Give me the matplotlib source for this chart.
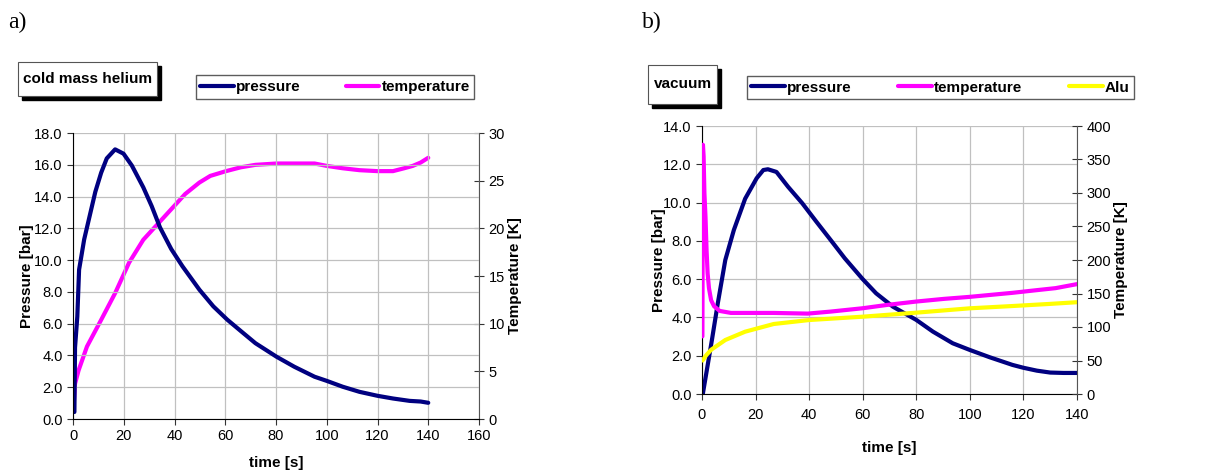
import matplotlib
matplotlib.use('Agg')
import matplotlib.pyplot as plt
from matplotlib.patches import Rectangle

plt.rcParams['font.family'] = ['Liberation Sans', 'DejaVu Sans']

# a) cold mass helium
t_a_p = [0.55, 0.8, 1.7, 2.4, 3.3, 4.4, 6.6, 8.8, 11.1, 13.3, 16.6, 19.9, 23.2, 27.7, 31, 34.3,
         38.7, 43.1, 49.8, 55.3, 60.8, 66.4, 71.9, 80.2, 87.2, 95.2, 100, 106.3, 112.9, 120,
         126.1, 132.7, 137, 140]
p_a = [0.44, 4.5, 6.45, 9.4, 10.25, 11.3, 12.8, 14.3, 15.5, 16.4, 16.97, 16.7, 15.95, 14.58, 13.4,
       12.05, 10.7, 9.62, 8.14, 7.09, 6.25, 5.5, 4.77, 3.92, 3.29, 2.66, 2.4, 2.03, 1.71, 1.46,
       1.29, 1.14, 1.1, 1.02]
t_a_T = [0.3, 0.8, 2.2, 5.5, 11.1, 16.6, 22.1, 27.7, 33.2, 38.7, 44.2, 49.8, 54.1, 60.3, 66.1,
         71.9, 80.2, 87.2, 95.2, 100, 106.3, 112.9, 120, 126.1, 130.5, 133.9, 137, 140]
T_a = [1.6, 3.7, 5.1, 7.6, 10.4, 13.2, 16.4, 18.8, 20.4, 22.0, 23.6, 24.8, 25.5, 26.0, 26.4,
       26.66, 26.8, 26.8, 26.8, 26.55, 26.3, 26.1, 26.0, 26.0, 26.3, 26.55, 26.9, 27.4]

# b) vacuum
t_b_p = [0.3, 1.6, 3.7, 5.9, 8.7, 11.9, 16.1, 20.4, 22.9, 24.6, 27.8, 32.1, 37.4, 42.7, 48,
         53.3, 60, 65, 71.3, 80, 86.2, 93.6, 100, 107.4, 115.9, 120, 125, 130, 135, 140]
p_b = [0.0, 1.08, 2.82, 4.74, 7.0, 8.57, 10.2, 11.27, 11.7, 11.74, 11.6, 10.83, 9.97, 9.0, 8.05,
       7.09, 6.0, 5.26, 4.56, 3.87, 3.26, 2.65, 2.3, 1.92, 1.52, 1.37, 1.22, 1.12, 1.1, 1.1]
t_b_T = [0.15, 0.35, 0.6, 0.9, 1.3, 1.7, 2.1, 2.6, 3.4, 4.5, 6.6, 10.8, 26.8, 39.5, 48, 60,
         69.2, 80, 90.4, 100, 115.9, 125, 132, 140]
T_b = [86, 372, 355, 300, 265, 215, 180, 158, 140, 131, 124, 121, 121, 120, 123, 128,
       133, 138, 142, 145, 151, 155, 158, 164]
t_b_alu = [0.2, 1.6, 3.4, 8.7, 16.1, 26.8, 40, 60, 80, 100, 115.9, 130, 140]
alu_b = [50, 58, 66, 80.6, 93, 104.5, 110.4, 115.4, 121.4, 127.9, 131.3, 134.5, 137]

NAVY = '#000080'
MAG = '#FF00FF'
YEL = '#FFFF00'
GRID = '#c0c0c0'

fig = plt.figure(figsize=(12.31, 4.73), dpi=100)


def px(x, y, w, h):
    # pixel box (top-left origin) -> figure fraction
    return [x / 1231, 1 - (y + h) / 473, w / 1231, h / 473]


def style(ax, ax2, xmax, ymax, ystep, Tmax, Tstep, xpad, ypad):
    ax.set_xlim(0, xmax)
    ax.set_ylim(0, ymax)
    ax.set_xticks(range(0, xmax + 1, 20))
    ax.set_yticks([i * ystep for i in range(int(round(ymax / ystep)) + 1)])
    ax.yaxis.set_major_formatter(matplotlib.ticker.FormatStrFormatter('%.1f'))
    ax.grid(True, color=GRID, lw=0.9)
    ax.set_axisbelow(True)
    ax.spines['top'].set_visible(False)
    ax.spines['right'].set_visible(False)
    ax.tick_params(labelsize=10.5, direction='out', length=4, color='#333333')
    ax.set_xlabel('time [s]', fontsize=11, fontweight='bold', labelpad=xpad)
    ax.set_ylabel('Pressure [bar]', fontsize=11, fontweight='bold', labelpad=ypad)
    ax2.set_ylim(0, Tmax)
    ax2.set_yticks(range(0, Tmax + 1, Tstep))
    ax2.tick_params(labelsize=10.5, direction='inout', length=7, color='#333333')
    for s in ['top', 'left', 'bottom']:
        ax2.spines[s].set_visible(False)
    ax2.spines['right'].set_color('#555555')
    ax2.set_ylabel('Temperature [K]', fontsize=11, fontweight='bold', labelpad=2)


def boxed_title(text, x, y, w, h):
    fig.patches.append(Rectangle((x / 1231 + 4 / 1231, 1 - (y + h + 4) / 473), w / 1231, h / 473,
                                 transform=fig.transFigure, fc='black', ec='black', zorder=1))
    fig.patches.append(Rectangle((x / 1231, 1 - (y + h) / 473), w / 1231, h / 473,
                                 transform=fig.transFigure, fc='white', ec='#555555', lw=0.8, zorder=2))
    fig.text((x + w / 2) / 1231, 1 - (y + h / 2) / 473, text, ha='center', va='center',
             fontsize=11, fontweight='bold', zorder=3)


# ---- a) ----
axa = fig.add_axes(px(73, 133, 406, 286))
axa2 = axa.twinx()
style(axa, axa2, 160, 18.0, 2.0, 30, 5, 9, 0)
la, = axa.plot(t_a_p, p_a, color=NAVY, lw=3, solid_capstyle='round', solid_joinstyle='round')
lb, = axa2.plot(t_a_T, T_a, color=MAG, lw=3, solid_capstyle='round', solid_joinstyle='round')
axa.set_zorder(axa2.get_zorder() + 1)
axa.patch.set_visible(False)
boxed_title('cold mass helium', 18, 62, 139, 34)
fig.legend([la, lb], ['pressure', 'temperature'], loc='center', ncol=2, mode='expand',
           bbox_to_anchor=px(188, 72, 294, 30), frameon=True, fancybox=False,
           edgecolor='#333333', prop={'weight': 'bold', 'size': 11},
           handlelength=2.2, handletextpad=0.15, borderpad=0.3)
fig.text(8 / 1231, 1 - 22 / 473, 'a)', fontsize=17, family='Liberation Serif', va='center')

# ---- b) ----
axb = fig.add_axes(px(702, 126, 375, 268))
axb2 = axb.twinx()
style(axb, axb2, 140, 14.0, 2.0, 400, 50, 14, -2)
axb.tick_params(axis='x', pad=6)
axb.plot([0, 140], [14.0, 14.0], color='#c8c8ff', lw=1.2, zorder=0.5)
pb, = axb.plot(t_b_p, p_b, color=NAVY, lw=3, solid_capstyle='round', solid_joinstyle='round')
tb, = axb2.plot(t_b_T, T_b, color=MAG, lw=3, solid_capstyle='round', solid_joinstyle='round')
ab, = axb2.plot(t_b_alu, alu_b, color=YEL, lw=3, solid_capstyle='round', solid_joinstyle='round')
boxed_title('vacuum', 648, 65, 69, 39)
fig.legend([pb, tb, ab], ['pressure', 'temperature', 'Alu'], loc='center', ncol=3, mode='expand',
           bbox_to_anchor=px(739, 72, 403, 31), frameon=True, fancybox=False,
           edgecolor='#333333', prop={'weight': 'bold', 'size': 11},
           handlelength=2.2, handletextpad=0.15, borderpad=0.3)
fig.text(642 / 1231, 1 - 22 / 473, 'b)', fontsize=17, family='Liberation Serif', va='center')

fig.savefig('out.png', dpi=100)
